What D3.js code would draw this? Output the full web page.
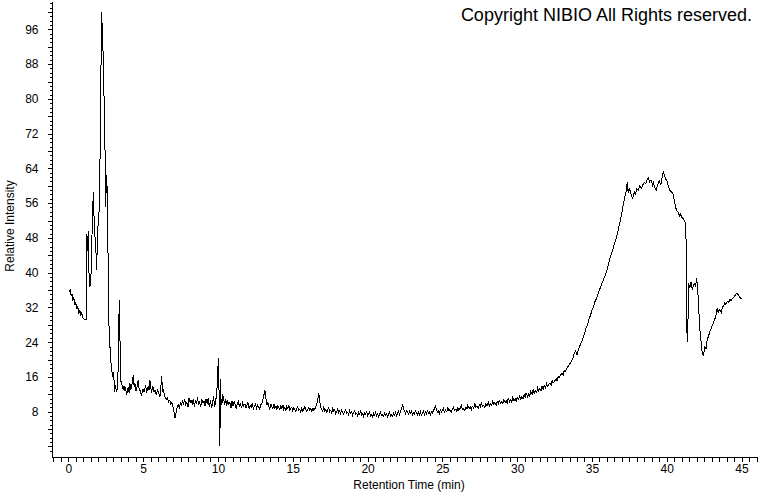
<!DOCTYPE html>
<html><head><meta charset="utf-8">
<script src="https://cdn.jsdelivr.net/npm/d3@7/dist/d3.min.js"></script>
<style>
html,body{margin:0;padding:0;background:#fff;}
svg{display:block;font-family:"Liberation Sans",Arial,sans-serif;}
</style></head>
<body><svg id="chart" width="760" height="492"></svg>
<script>
// [retention time (min), relative intensity]
const earlyPeaks = [
 [0.05,35.5],[0.12,36.0],[0.18,34.8],[0.25,35.0],[0.3,33.6],[0.37,34.2],[0.44,32.5],[0.5,33.1],[0.57,31.6],[0.63,32.2],
 [0.7,30.6],[0.77,31.4],[0.83,30.0],[0.88,31.0],[0.95,29.6],[1.05,29.3],[1.15,29.3],[1.22,29.3],[1.24,49.0],[1.29,45.0],
 [1.33,49.6],[1.38,40.0],[1.44,36.7],[1.51,39.0],[1.56,47.0],[1.62,52.0],[1.66,58.5],[1.71,53.3],[1.75,51.0],[1.78,48.2],
 [1.84,45.5],[1.89,40.6],[1.93,46.0],[1.96,49.8],[2.0,51.5],[2.05,54.0],[2.11,64.3],[2.15,76.0],[2.18,87.0],[2.23,100.0],
 [2.25,97.5],[2.28,95.5],[2.31,92.0],[2.38,81.3],[2.45,68.2],[2.49,55.1],[2.53,60.0],[2.56,62.5],[2.6,58.3],[2.65,44.5],
 [2.71,28.4],[2.78,23.0],[2.85,19.2],[2.9,17.5],[2.96,16.0],[3.0,16.8],[3.03,16.9],[3.09,12.5],[3.13,14.2],[3.16,13.7],
 [3.23,12.6],[3.3,14.0],[3.34,20.3],[3.38,30.0],[3.42,33.7],[3.45,25.0],[3.49,15.0],[3.56,14.9],[3.62,13.2],[3.67,13.9],
 [3.73,12.8],[3.78,13.8],[3.84,12.9],[3.9,11.9],[3.95,13.1],[4.0,13.5],[4.06,12.4],[4.12,14.5],[4.17,13.0],[4.23,13.8],
 [4.28,14.9],[4.34,16.5],[4.4,13.6],[4.45,14.5],[4.51,12.7],[4.57,13.4],[4.62,14.2],[4.67,15.3],[4.73,13.1],[4.78,13.0],
 [4.84,12.3],[4.9,11.9],[4.95,12.8],[5.0,13.2],[5.06,12.6],[5.12,13.4],[5.17,14.1],[5.22,12.4],[5.28,13.0],[5.34,13.8],
 [5.4,12.9],[5.45,15.3],[5.51,13.6],[5.57,12.2],[5.62,13.9],[5.68,13.4],[5.73,12.5],[5.79,13.0],[5.84,12.1],[5.9,11.9],
 [5.95,13.1],[6.0,12.8],[6.06,12.0],[6.12,11.5],[6.18,13.5],[6.24,16.1],[6.3,12.5],[6.36,13.0],[6.42,11.8],[6.48,11.2],
 [6.55,10.8],[6.62,11.2],[6.7,10.3],[6.78,10.6],[6.85,9.8],[6.92,10.2],[7.0,9.0],[7.06,8.0],[7.13,6.6],[7.2,7.8],
 [7.28,9.2],[7.35,9.6],[7.42,8.9]
];
const baseline = [
 [7.5,10.2],[7.56,9.4],[7.62,10.5],[7.7,9.9],[7.78,10.8],[7.85,9.6],[7.92,10.1],[8.0,9.1],[8.07,11.2],[8.14,10.0],
 [8.2,10.6],[8.28,9.8],[8.35,11.0],[8.42,9.2],[8.5,10.4],[8.57,9.9],[8.64,11.4],[8.7,9.5],[8.78,10.2],[8.85,9.0],
 [8.92,10.8],[9.0,10.0],[9.07,10.5],[9.14,9.3],[9.2,10.9],[9.28,9.8],[9.35,11.2],[9.42,9.0],[9.5,10.6],[9.57,8.8],
 [9.64,10.1],[9.7,11.5],[9.78,9.2],[9.85,10.4],[9.92,12.5],[9.98,16.0],[10.02,20.3],[10.06,14.5],[10.1,9.0],[10.13,0.2],
 [10.16,15.5],[10.2,11.0],[10.26,9.5],[10.32,12.0],[10.38,10.8],[10.45,9.6],[10.52,10.9],[10.58,9.4],[10.65,10.6],[10.72,9.7],
 [10.8,10.2],[10.87,8.9],[10.94,10.5],[11.0,9.3],[11.08,10.3],[11.15,9.6],[11.22,8.8],[11.3,9.9],[11.37,10.4],[11.44,9.0],
 [11.5,9.7],[11.58,8.8],[11.65,10.1],[11.72,9.4],[11.8,9.8],[11.87,8.9],[11.94,9.5],[12.0,10.2],[12.08,8.7],[12.15,9.4],
 [12.22,9.0],[12.3,9.9],[12.37,8.6],[12.44,9.3],[12.5,9.8],[12.58,8.8],[12.65,9.5],[12.72,9.1],[12.8,8.6],[12.87,9.6],
 [12.94,10.0],[13.0,10.8],[13.07,11.8],[13.14,13.0],[13.2,11.2],[13.27,9.5],[13.34,10.2],[13.4,9.1],[13.47,8.6],[13.54,9.7],
 [13.6,9.2],[13.67,8.7],[13.74,9.8],[13.8,8.9],[13.87,9.3],[13.94,8.5],[14.0,9.4],[14.07,9.0],[14.14,8.4],[14.2,9.3],
 [14.27,8.8],[14.34,9.6],[14.4,8.5],[14.47,8.9],[14.54,8.3],[14.6,9.2],[14.67,8.7],[14.74,9.4],[14.8,8.4],[14.87,8.8],
 [14.94,9.1],[15.0,8.2],[15.07,8.9],[15.14,8.4],[15.2,8.0],[15.27,8.7],[15.34,9.1],[15.4,8.3],[15.47,8.5],[15.54,7.9],
 [15.6,8.8],[15.67,8.2],[15.74,8.6],[15.8,9.2],[15.87,8.4],[15.94,8.0],[16.0,8.5],[16.07,8.9],[16.14,8.3],[16.2,8.7],
 [16.27,8.1],[16.34,8.8],[16.4,8.4],[16.47,8.6],[16.54,9.2],[16.6,9.6],[16.67,10.8],[16.74,12.2],[16.8,10.5],[16.87,9.0],
 [16.94,8.6],[17.0,8.1],[17.07,9.0],[17.14,8.2],[17.2,8.5],[17.27,7.8],[17.34,8.6],[17.4,8.9],[17.47,8.0],[17.54,8.3],
 [17.6,7.7],[17.67,8.7],[17.74,8.1],[17.8,8.4],[17.87,7.6],[17.94,8.0],[18.0,8.6],[18.07,7.8],[18.14,8.2],[18.2,7.5],
 [18.27,8.4],[18.34,7.9],[18.4,7.4],[18.47,8.1],[18.54,8.5],[18.6,7.6],[18.67,7.9],[18.74,7.3],[18.8,8.2],[18.87,7.7],
 [18.94,8.0],[19.0,7.2],[19.07,7.8],[19.14,8.3],[19.2,7.4],[19.27,7.6],[19.34,7.0],[19.4,7.9],[19.47,7.5],[19.54,8.1],
 [19.6,7.3],[19.67,7.6],[19.74,6.9],[19.8,7.7],[19.87,7.4],[19.94,8.0],[20.0,7.1],[20.07,7.5],[20.14,7.9],[20.2,7.0],
 [20.27,7.3],[20.34,6.8],[20.4,7.6],[20.47,7.2],[20.54,7.8],[20.6,7.0],[20.67,7.4],[20.74,6.8],[20.8,7.5],[20.87,7.9],
 [20.94,7.1],[21.0,7.3],[21.07,6.9],[21.14,7.7],[21.2,7.2],[21.27,7.5],[21.34,6.8],[21.4,7.4],[21.47,7.9],[21.54,7.0],
 [21.6,7.3],[21.67,6.9],[21.74,7.6],[21.8,7.2],[21.87,7.8],[21.94,7.1],[22.0,7.6],[22.07,8.1],[22.14,7.3],[22.2,8.0],
 [22.27,8.6],[22.34,9.7],[22.4,8.8],[22.47,8.2],[22.54,7.6],[22.6,8.3],[22.67,7.9],[22.74,7.4],[22.8,8.1],[22.87,7.7],
 [22.94,8.2],[23.0,7.3],[23.07,7.8],[23.14,7.5],[23.2,8.2],[23.27,7.6],[23.34,7.2],[23.4,7.9],[23.47,7.4],[23.54,8.0],
 [23.6,7.2],[23.67,7.7],[23.74,8.1],[23.8,7.3],[23.87,7.9],[23.94,7.5],[24.0,8.2],[24.07,7.6],[24.14,7.9],[24.2,7.3],
 [24.27,8.0],[24.34,7.7],[24.4,8.3],[24.47,8.6],[24.54,9.2],[24.6,8.5],[24.67,7.9],[24.74,8.2],[24.8,7.6],[24.87,8.4],
 [24.94,7.9],[25.0,8.2]
];
const risingSlope = [
 [25.07,8.7],[25.14,7.9],[25.2,8.4],[25.3,8.0],[25.37,8.9],[25.44,8.2],[25.5,8.5],[25.6,7.9],[25.67,8.6],[25.74,9.1],
 [25.8,8.3],[25.9,8.6],[25.97,8.1],[26.04,9.0],[26.1,8.4],[26.2,8.8],[26.27,9.4],[26.34,8.5],[26.4,8.8],[26.5,8.2],
 [26.57,9.0],[26.64,8.6],[26.7,9.5],[26.8,8.7],[26.87,9.1],[26.94,8.5],[27.0,9.3],[27.1,8.8],[27.17,9.8],[27.24,9.0],
 [27.3,9.3],[27.4,8.8],[27.47,9.6],[27.54,9.1],[27.6,10.0],[27.7,9.2],[27.77,9.5],[27.84,9.0],[27.9,9.8],[28.0,9.4],
 [28.07,10.2],[28.14,9.3],[28.2,9.9],[28.3,9.5],[28.37,10.4],[28.44,9.6],[28.5,10.0],[28.6,9.5],[28.67,10.3],[28.74,9.8],
 [28.8,10.6],[28.9,9.9],[28.97,10.3],[29.04,9.8],[29.1,10.7],[29.2,10.1],[29.27,10.5],[29.34,10.0],[29.4,11.0],[29.5,10.3],
 [29.57,10.8],[29.64,10.2],[29.7,11.2],[29.8,10.5],[29.87,11.0],[29.94,10.4],[30.0,11.3],[30.1,10.8],[30.17,11.6],[30.24,10.9],
 [30.3,11.4],[30.4,11.0],[30.47,12.0],[30.54,11.3],[30.6,12.3],[30.7,11.5],[30.77,12.1],[30.84,11.6],[30.9,12.7],[31.0,12.0],
 [31.07,13.2],[31.14,12.2],[31.2,12.9],[31.3,12.4],[31.37,13.5],[31.44,12.8],[31.5,13.2],[31.6,12.9],[31.67,13.9],[31.74,13.2],
 [31.8,14.0],[31.9,13.5],[31.97,14.4],[32.04,13.8],[32.1,14.2],[32.2,14.6],[32.27,14.1],[32.34,15.2],[32.4,14.7],[32.5,15.0],
 [32.6,15.6],[32.67,15.1],[32.74,16.2],[32.8,15.7],[32.9,16.4],[33.0,16.9],[33.07,16.4],[33.14,17.5],[33.2,17.2],[33.3,17.9],
 [33.4,18.4],[33.5,18.9],[33.6,19.5],[33.7,20.0],[33.8,21.2],[33.9,22.0]
];
const broadPeak = [
 [34.0,21.0],[34.1,22.3],[34.2,23.2],[34.3,24.0],[34.4,25.0],[34.5,26.0],[34.6,27.2],[34.7,28.0],[34.8,29.2],[34.9,30.2],
 [35.0,31.3],[35.1,32.2],[35.2,33.3],[35.3,34.0],[35.4,35.0],[35.5,36.0],[35.6,36.9],[35.7,37.8],[35.8,38.7],[35.9,39.5],
 [36.0,40.6],[36.1,41.8],[36.2,43.2],[36.3,44.3],[36.4,45.4],[36.5,46.6],[36.6,47.6],[36.7,49.0],[36.8,50.5],[36.9,52.0],
 [37.0,53.8],[37.1,55.8],[37.2,57.5],[37.3,59.0],[37.36,60.8],[37.42,58.4],[37.5,59.5],[37.6,58.2],[37.7,57.2],[37.77,57.6],
 [37.85,58.8],[37.9,57.9],[38.0,59.2],[38.1,58.9],[38.2,60.0],[38.3,59.4],[38.4,60.2],[38.5,60.8],[38.6,60.4],[38.7,61.6],
 [38.76,61.8],[38.85,60.9],[38.95,61.4],[39.05,60.2],[39.1,60.8],[39.2,59.6],[39.3,59.0],[39.4,60.3],[39.5,61.2],[39.6,60.1],
 [39.7,62.0],[39.77,63.2],[39.85,62.4],[39.92,61.6],[40.0,61.3],[40.1,60.0],[40.2,59.0],[40.3,58.6],[40.4,58.3],[40.5,56.8],
 [40.6,55.0],[40.65,54.4],[40.75,54.0],[40.85,53.1],[40.9,53.6],[41.0,52.8],[41.1,52.4],[41.2,51.8],[41.28,51.3],[41.33,30.0],
 [41.37,24.0],[41.42,29.0],[41.47,37.5],[41.55,36.5],[41.62,37.8],[41.7,36.2],[41.77,36.8],[41.85,37.5],[41.93,37.0],[42.0,38.7],
 [42.07,36.0],[42.12,33.0],[42.2,27.6],[42.28,24.5],[42.36,22.0],[42.44,20.8],[42.5,22.0],[42.55,23.0],[42.62,22.4],[42.7,24.4],
 [42.77,25.2],[42.85,26.0],[42.92,26.8],[43.0,27.4],[43.1,28.3],[43.2,29.1],[43.3,30.4],[43.38,31.9],[43.44,30.8],[43.52,31.5],
 [43.6,31.3],[43.65,30.9],[43.72,32.0],[43.8,32.4],[43.88,33.0],[43.95,32.6],[44.05,33.4],[44.15,33.2],[44.22,33.8],[44.3,33.6],
 [44.4,34.1],[44.5,34.4],[44.6,34.9],[44.7,35.3],[44.8,34.8],[44.9,34.3],[45.0,33.9]
];
const xTickLabels = [0,5,10,15,20,25,30,35,40,45];
const yTickLabels = [8,16,24,32,40,48,56,64,72,80,88,96];
const xTitle = "Retention Time (min)";
const yTitle = "Relative Intensity";
const copyright = "Copyright NIBIO All Rights reserved.";

const series = earlyPeaks.concat(baseline, risingSlope, broadPeak);
const svg = d3.select("#chart");
const x = d3.scaleLinear().domain([-1, 46]).range([53.4, 756.5]);
const y = d3.scaleLinear().domain([-2.43, 102.3]).range([457, 2]);
const axisX0 = 52.5, axisY0 = 457.5;

// x axis
const xAxis = d3.axisBottom(x)
  .tickValues(d3.range(-1, 46.01, 0.5))
  .tickSize(4).tickSizeOuter(0).tickPadding(3)
  .tickFormat(d => xTickLabels.includes(d) ? d : "");
const gx = svg.append("g").attr("transform", `translate(0,${axisY0})`).call(xAxis);
gx.select(".domain").remove();
gx.selectAll(".tick line").attr("stroke", "#000").attr("shape-rendering", "crispEdges");
gx.selectAll(".tick text").attr("font-size", 12).attr("fill", "#000").attr("font-family", "Liberation Sans, Arial, sans-serif");

// y axis
const yAxis = d3.axisLeft(y)
  .tickValues(d3.range(-1, 103, 1))
  .tickSize(3).tickSizeOuter(0).tickPadding(10)
  .tickFormat(d => yTickLabels.includes(d) ? d : "");
const gy = svg.append("g").attr("transform", `translate(${axisX0},0)`).call(yAxis);
gy.select(".domain").remove();
gy.selectAll(".tick line").attr("stroke", "#000").attr("shape-rendering", "crispEdges")
  .attr("x2", d => (d % 4 === 0 ? -5 : -3));
gy.selectAll(".tick text").attr("font-size", 12).attr("fill", "#000").attr("x", -14).attr("font-family", "Liberation Sans, Arial, sans-serif");

// axis lines
svg.append("line").attr("x1", axisX0).attr("x2", axisX0).attr("y1", 2).attr("y2", axisY0)
  .attr("stroke", "#000").attr("shape-rendering", "crispEdges");
svg.append("line").attr("x1", axisX0).attr("x2", 758).attr("y1", axisY0).attr("y2", axisY0)
  .attr("stroke", "#000").attr("shape-rendering", "crispEdges");

// trace
const line = d3.line().x(d => x(d[0])).y(d => y(d[1]));
svg.append("path").datum(series).attr("d", line)
  .attr("fill", "none").attr("stroke", "#000").attr("stroke-width", 1)
  .attr("shape-rendering", "crispEdges");

// titles
svg.append("text").attr("x", 409).attr("y", 489).attr("text-anchor", "middle")
  .attr("font-size", 12).attr("fill", "#000").text(xTitle);
svg.append("text").attr("transform", "translate(14,226) rotate(-90)").attr("text-anchor", "middle")
  .attr("font-size", 12).attr("fill", "#000").text(yTitle);
svg.append("text").attr("x", 752).attr("y", 21).attr("text-anchor", "end")
  .attr("font-size", 18).attr("fill", "#000").text(copyright);
</script></body></html>
